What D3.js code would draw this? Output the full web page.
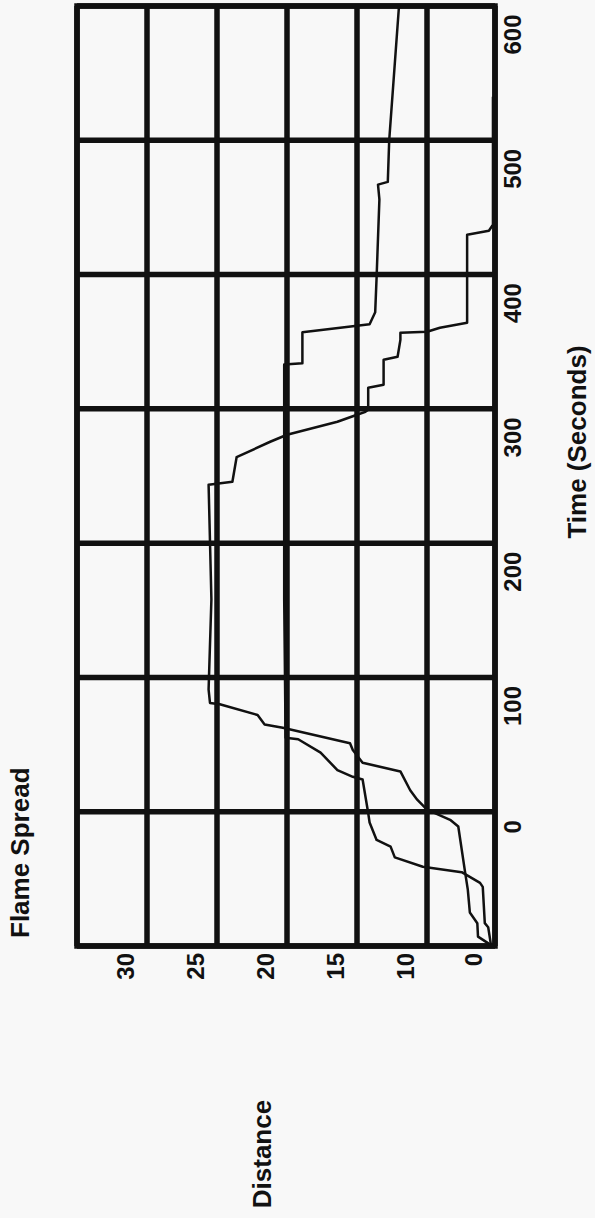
<!DOCTYPE html>
<html>
<head>
<meta charset="utf-8">
<script src="https://cdn.jsdelivr.net/npm/d3@7"></script>
<style>
  body { margin: 0; background: #f8f8f8; }
  text { font-family: "Liberation Sans", Arial, sans-serif; font-weight: bold; fill: #111; }
</style>
</head>
<body>
<div id="grafico"></div>
<script>
// Lectura de la curva A (termina arriba, ~12 a los 600 s)
var timeA = [-99, -86, -83, -56, -53, -45, -41, -34, -26, -21, -8, -1, 24, 26, 31, 44, 54, 55, 158, 333, 334, 357, 363, 372, 398, 456, 467, 469, 500, 600];
var distA = [0.6, 1.0, 1.5, 1.8, 2.2, 4.9, 10.3, 12.3, 12.6, 13.6, 14.1, 14.2, 14.6, 15.3, 16.4, 17.6, 19.2, 20.1, 20.2, 20.2, 18.9, 18.9, 14.1, 13.7, 13.6, 13.4, 13.5, 12.8, 12.7, 12.0];

// Curva B (meseta ~25, vuelve a 0 hacia los 530 s)
var timeB = [-99, -93, -83, -75, -58, -45, -11, -6, 1.5, 9, 16, 30, 36.5, 46, 51, 62.5, 65, 72, 80, 81, 91, 158, 243.5, 245.7, 264, 275.5, 280.7, 290.4, 295.6, 297.8, 299.3, 315.7, 317.9, 336.6, 338.8, 351.4, 356.7, 357.4, 360.4, 364.1, 429.6, 432.6, 437.1, 532.4];
var distB = [0.7, 2.5, 2.6, 3.7, 4.0, 4.4, 5.4, 6.6, 10.0, 10.7, 11.2, 11.9, 14.6, 15.3, 15.5, 20.3, 21.6, 22.1, 24.8, 25.5, 25.6, 25.4, 25.6, 23.9, 23.6, 21.2, 20.0, 16.4, 15.0, 14.4, 14.2, 14.2, 13.1, 13.1, 12.1, 11.9, 11.9, 10.0, 8.1, 4.1, 4.1, 0.9, 0.3, 0.3];

var timeGrid  = [-100, 0, 100, 200, 300, 400, 500, 600];
var timeTicks = [0, 100, 200, 300, 400, 500, 600];
var distGrid  = [0, 10, 15, 20, 25, 30, 35];
var distTicks = [0, 10, 15, 20, 25, 30];

var W = 595, H = 1218;
// margenes en coordenadas del grafico sin girar ("top" choca con window.top)
var m = { left: 272, right: 1212, top: 77, bottom: 495 };

var svg = d3.select('#grafico').append('svg')
    .attr('width', W)
    .attr('height', H);

// el grafico se dibuja derecho y luego se gira 90 grados a la izquierda (como la hoja escaneada)
var g = svg.append('g')
    .attr('transform', 'translate(0,' + H + ') rotate(-90)');

var x = d3.scaleLinear().domain([-100, 600]).range([m.left, m.right]);
var y = d3.scaleLinear().domain([0, 10, 35]).range([m.bottom, 427, m.top]);

// rejilla
g.selectAll('.vgrid')
    .data(timeGrid)
    .enter()
    .append('line')
        .attr('x1', d => x(d)).attr('x2', d => x(d))
        .attr('y1', m.top).attr('y2', m.bottom)
        .style('stroke', '#111')
        .style('stroke-width', 5.5);

g.selectAll('.hgrid')
    .data(distGrid)
    .enter()
    .append('line')
        .attr('x1', m.left).attr('x2', m.right)
        .attr('y1', d => y(d)).attr('y2', d => y(d))
        .style('stroke', '#111')
        .style('stroke-width', 5.5);

g.append('rect')
    .attr('x', m.left).attr('y', m.top)
    .attr('width', m.right - m.left).attr('height', m.bottom - m.top)
    .attr('fill', 'none')
    .style('stroke', '#111')
    .style('stroke-width', 5.5);

// ejes (solo etiquetas, la rejilla ya esta)
var ejeX = g.append('g')
    .attr('transform', 'translate(0,' + m.bottom + ')')
    .call(d3.axisBottom(x).tickValues(timeTicks).tickSize(0).tickPadding(0));
ejeX.select('.domain').remove();
ejeX.selectAll('text')
    .attr('x', -9)
    .attr('y', 26)
    .attr('dy', null)
    .attr('text-anchor', 'end')
    .attr('font-size', '24px')
    .attr('font-family', null);

var ejeY = g.append('g')
    .attr('transform', 'translate(' + m.left + ',0)')
    .call(d3.axisLeft(y).tickValues(distTicks).tickSize(0).tickPadding(7));
ejeY.select('.domain').remove();
ejeY.selectAll('text')
    .attr('y', -14)
    .attr('dy', null)
    .attr('font-size', '24px')
    .attr('font-family', null);

// curvas
var linea = d3.line()
    .x(d => x(d[0]))
    .y(d => y(d[1]));

[d3.zip(timeA, distA), d3.zip(timeB, distB)].forEach(function (serie) {
    g.append('path')
        .datum(serie)
        .attr('d', linea)
        .attr('fill', 'none')
        .style('stroke', '#111')
        .style('stroke-width', 2.5)
        .style('stroke-linejoin', 'round');
});

// titulos
g.append('text')
    .attr('x', m.left + 8)
    .attr('y', 29)
    .attr('font-size', '26px')
    .text('Flame Spread');

g.append('text')
    .attr('x', 64)
    .attr('y', 271)
    .attr('text-anchor', 'middle')
    .attr('font-size', '26px')
    .text('Distance');

g.append('text')
    .attr('x', 776)
    .attr('y', 586)
    .attr('text-anchor', 'middle')
    .attr('font-size', '26px')
    .text('Time (Seconds)');
</script>
</body>
</html>
